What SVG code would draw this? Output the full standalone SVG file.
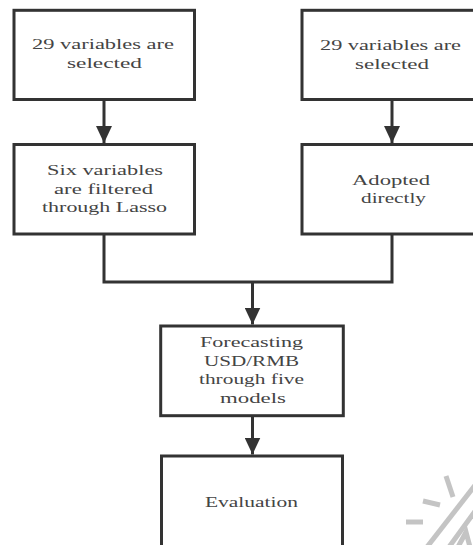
<svg xmlns="http://www.w3.org/2000/svg" width="473" height="545" viewBox="0 0 473 545">
<defs>
<style>
.box{fill:#fff;stroke:#333;stroke-width:3}
.t{font-size:15px;fill:#444;text-anchor:middle}
.c{fill:none;stroke:#333;stroke-width:3}
.wm{fill:none;stroke:#c4c4c4;stroke-width:5}
</style>
<marker id="ah" markerUnits="userSpaceOnUse" markerWidth="17" markerHeight="16" refX="17" refY="8" orient="auto">
<path d="M0,0 L17,8 L0,16 z" fill="#333"/>
</marker>
</defs>
<rect width="473" height="545" fill="#fff"/>
<g id="connectors">
<line class="c" x1="104" y1="99.5" x2="104" y2="143" marker-end="url(#ah)"/>
<line class="c" x1="392" y1="99.5" x2="392" y2="143" marker-end="url(#ah)"/>
<polyline class="c" points="104,234 104,282 392,282 392,234"/>
<line class="c" x1="252.5" y1="282" x2="252.5" y2="324.5" marker-end="url(#ah)"/>
<line class="c" x1="252.5" y1="416" x2="252.5" y2="454.5" marker-end="url(#ah)"/>
</g>
<g font-family="Liberation Serif, DejaVu Serif, serif">
<g id="n1">
<rect class="box" x="14" y="10.3" width="180.5" height="89.2"/>
<text class="t" x="103" y="49" textLength="142" lengthAdjust="spacingAndGlyphs">29 variables are</text>
<text class="t" x="104.5" y="68" textLength="75" lengthAdjust="spacingAndGlyphs">selected</text>
</g>
<g id="n2">
<rect class="box" x="302" y="10.3" width="185" height="89.2"/>
<text class="t" x="390.5" y="50" textLength="141" lengthAdjust="spacingAndGlyphs">29 variables are</text>
<text class="t" x="392" y="69" textLength="74" lengthAdjust="spacingAndGlyphs">selected</text>
</g>
<g id="n3">
<rect class="box" x="14" y="144.5" width="180.5" height="89.5"/>
<text class="t" x="105" y="175" textLength="116" lengthAdjust="spacingAndGlyphs">Six variables</text>
<text class="t" x="103.5" y="194" textLength="99" lengthAdjust="spacingAndGlyphs">are filtered</text>
<text class="t" x="104.5" y="212" textLength="125" lengthAdjust="spacingAndGlyphs">through Lasso</text>
</g>
<g id="n4">
<rect class="box" x="302" y="144.5" width="185" height="89.5"/>
<text class="t" x="391" y="185" textLength="78" lengthAdjust="spacingAndGlyphs">Adopted</text>
<text class="t" x="393.5" y="203" textLength="65" lengthAdjust="spacingAndGlyphs">directly</text>
</g>
<g id="n5">
<rect class="box" x="160.7" y="326" width="182.6" height="89.7"/>
<text class="t" x="251.5" y="347" textLength="103" lengthAdjust="spacingAndGlyphs">Forecasting</text>
<text class="t" x="251.5" y="366" textLength="95" lengthAdjust="spacingAndGlyphs">USD/RMB</text>
<text class="t" x="251.5" y="384" textLength="105" lengthAdjust="spacingAndGlyphs">through five</text>
<text class="t" x="253" y="403" textLength="66" lengthAdjust="spacingAndGlyphs">models</text>
</g>
<g id="n6">
<rect class="box" x="161.5" y="456" width="181" height="110"/>
<text class="t" x="251.5" y="507" textLength="93" lengthAdjust="spacingAndGlyphs">Evaluation</text>
</g>
</g>
<g id="watermark">
<line class="wm" x1="476" y1="484" x2="427" y2="547"/>
<line class="wm" x1="476" y1="510" x2="449" y2="547"/>
<polyline class="wm" points="446,476 453,497"/>
<line class="wm" x1="423" y1="501" x2="440" y2="505"/>
<line class="wm" x1="406" y1="522" x2="423" y2="522"/>
<polyline class="wm" points="458,547 466,532 470,547"/>
</g>
</svg>
